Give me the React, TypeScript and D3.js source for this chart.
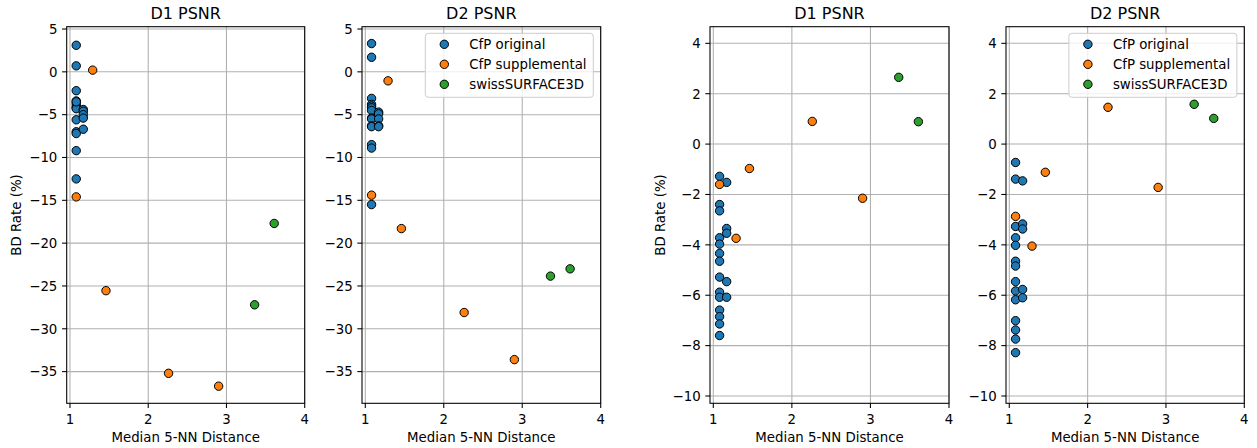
import React from 'react';
import * as d3 from 'd3';

// series names and colours (matplotlib tab10)
const seriesNames = ['CfP original', 'CfP supplemental', 'swissSURFACE3D'];
const seriesColors = ['#1f77b4', '#ff7f0e', '#2ca02c'];

// x values: median 5-NN distance per point cloud
const origX = [
    1.08, 1.08, 1.08, 1.08, 1.08, 1.08, 1.08, 1.08, 1.08, 1.08, 1.08, 1.08, 1.08, 1.08,
    1.17, 1.17, 1.17, 1.17, 1.17,
];
const suppX = [1.08, 1.29, 1.46, 2.26, 2.9];
const swissX = [3.36, 3.61];

// BD rates (%), left figure
const leftD1Orig = [3.1, 0.7, -2.2, -3.4, -3.7, -4.0, -4.2, -4.3, -5.6, -7.0, -7.2, -9.2, -12.5, -3.5, -4.4, -4.6, -5.0, -5.4, -6.7];
const leftD1Supp = [-14.6, 0.2, -25.55, -35.2, -36.7];
const leftD1Swiss = [-27.2, -17.7];
const leftD2Orig = [3.3, 1.7, -3.1, -3.8, -4.0, -4.2, -4.5, -5.4, -5.5, -6.3, -6.4, -8.5, -8.9, -15.5, -4.7, -4.9, -5.5, -6.3, -6.4];
const leftD2Supp = [-14.4, -1.05, -18.3, -28.1, -33.6];
const leftD2Swiss = [-23.85, -23.0];

// BD rates (%), right figure
const rightD1Orig = [-1.28, -2.4, -2.65, -3.72, -3.97, -4.34, -4.65, -5.28, -5.88, -6.08, -6.59, -6.85, -7.14, -7.6, -1.52, -3.35, -3.54, -5.46, -6.08];
const rightD1Supp = [-1.6, -3.74, -0.97, 0.9, -2.15];
const rightD1Swiss = [2.65, 0.89];
const rightD2Orig = [-0.73, -1.39, -3.27, -3.72, -4.02, -4.65, -4.84, -5.46, -5.83, -6.18, -7.01, -7.38, -7.74, -8.28, -1.46, -3.17, -3.37, -5.77, -6.1];
const rightD2Supp = [-2.87, -4.05, -1.12, 1.46, -1.72];
const rightD2Swiss = [1.58, 1.02];

const xTicks = [1, 2, 3, 4];
const leftYTicks = [5, 0, -5, -10, -15, -20, -25, -30, -35];
const rightYTicks = [4, 2, 0, -2, -4, -6, -8, -10];

const font = 'DejaVu Sans, sans-serif';
const fmt = (v: number) => String(v).replace('-', '\u2212');

type PanelProps = {
    left: number;
    right: number;
    title: string;
    ys: number[][];
    yDomain: [number, number];
    yTicks: number[];
    yLabel: boolean;
    legend: boolean;
};

const top = 26.7;
const bottom = 403.3;

const Panel = ({ left, right, title, ys, yDomain, yTicks, yLabel, legend }: PanelProps) => {
    const x = d3.scaleLinear().domain([0.958, 4]).range([left, right]);
    const y = d3.scaleLinear().domain(yDomain).range([bottom, top]);
    const xs = [origX, suppX, swissX];
    const tick = 4.67;

    return (
        <g>
            {/* grid */}
            {xTicks.map((t) => (
                <line key={'gx' + t} x1={x(t)} x2={x(t)} y1={top} y2={bottom} stroke="#b0b0b0" strokeWidth={1.07} />
            ))}
            {yTicks.map((t) => (
                <line key={'gy' + t} x1={left} x2={right} y1={y(t)} y2={y(t)} stroke="#b0b0b0" strokeWidth={1.07} />
            ))}

            {/* points */}
            {ys.map((vals, si) =>
                vals.map((v, i) => (
                    <circle
                        key={si + '-' + i}
                        cx={x(xs[si][i])}
                        cy={y(v)}
                        r={4.2}
                        fill={seriesColors[si]}
                        stroke="#000"
                        strokeWidth={1}
                    />
                ))
            )}

            {/* frame */}
            <rect x={left} y={top} width={right - left} height={bottom - top} fill="none" stroke="#000" strokeWidth={1.07} />

            {/* x axis */}
            {xTicks.map((t) => (
                <g key={'tx' + t}>
                    <line x1={x(t)} x2={x(t)} y1={bottom} y2={bottom + tick} stroke="#000" strokeWidth={1.07} />
                    <text x={x(t)} y={423.5} textAnchor="middle" fontSize={13.33} fontFamily={font}>
                        {fmt(t)}
                    </text>
                </g>
            ))}
            <text x={(left + right) / 2} y={441.5} textAnchor="middle" fontSize={13.33} fontFamily={font}>
                Median 5-NN Distance
            </text>

            {/* y axis */}
            {yTicks.map((t) => (
                <g key={'ty' + t}>
                    <line x1={left - tick} x2={left} y1={y(t)} y2={y(t)} stroke="#000" strokeWidth={1.07} />
                    <text
                        x={left - tick - 4.67}
                        y={y(t)}
                        dy="0.36em"
                        textAnchor="end"
                        fontSize={13.33}
                        fontFamily={font}
                    >
                        {fmt(t)}
                    </text>
                </g>
            ))}
            {yLabel && (
                <text
                    transform={`translate(${left - 45.5},${(top + bottom) / 2}) rotate(-90)`}
                    textAnchor="middle"
                    fontSize={13.33}
                    fontFamily={font}
                >
                    BD Rate (%)
                </text>
            )}

            <text x={(left + right) / 2} y={19} textAnchor="middle" fontSize={16} fontFamily={font}>
                {title}
            </text>

            {legend && (
                <g transform={`translate(${right - 175.4},${top + 6.6})`}>
                    <rect x={0} y={0} width={168} height={64} rx={3} fill="#fff" fillOpacity={0.8} stroke="#cccccc" strokeWidth={1} />
                    {seriesNames.map((name, i) => (
                        <g key={name} transform={`translate(0,${11 + i * 20})`}>
                            <circle cx={19} cy={0} r={4.2} fill={seriesColors[i]} stroke="#000" strokeWidth={1} />
                            <text x={44} y={0} dy="0.36em" fontSize={13.33} fontFamily={font}>
                                {name}
                            </text>
                        </g>
                    ))}
                </g>
            )}
        </g>
    );
};

export default function App() {
    return (
        <svg
            width={1257}
            height={448}
            style={{ position: 'absolute', left: 0, top: 0, display: 'block', background: '#fff' }}
        >
            <Panel
                left={66.7}
                right={304.7}
                title="D1 PSNR"
                ys={[leftD1Orig, leftD1Supp, leftD1Swiss]}
                yDomain={[-38.7, 5.27]}
                yTicks={leftYTicks}
                yLabel
                legend={false}
            />
            <Panel
                left={362}
                right={600.7}
                title="D2 PSNR"
                ys={[leftD2Orig, leftD2Supp, leftD2Swiss]}
                yDomain={[-38.7, 5.27]}
                yTicks={leftYTicks}
                yLabel={false}
                legend
            />
            <Panel
                left={710}
                right={949}
                title="D1 PSNR"
                ys={[rightD1Orig, rightD1Supp, rightD1Swiss]}
                yDomain={[-10.29, 4.66]}
                yTicks={rightYTicks}
                yLabel
                legend={false}
            />
            <Panel
                left={1006}
                right={1244.3}
                title="D2 PSNR"
                ys={[rightD2Orig, rightD2Supp, rightD2Swiss]}
                yDomain={[-10.29, 4.66]}
                yTicks={rightYTicks}
                yLabel={false}
                legend
            />
        </svg>
    );
}
